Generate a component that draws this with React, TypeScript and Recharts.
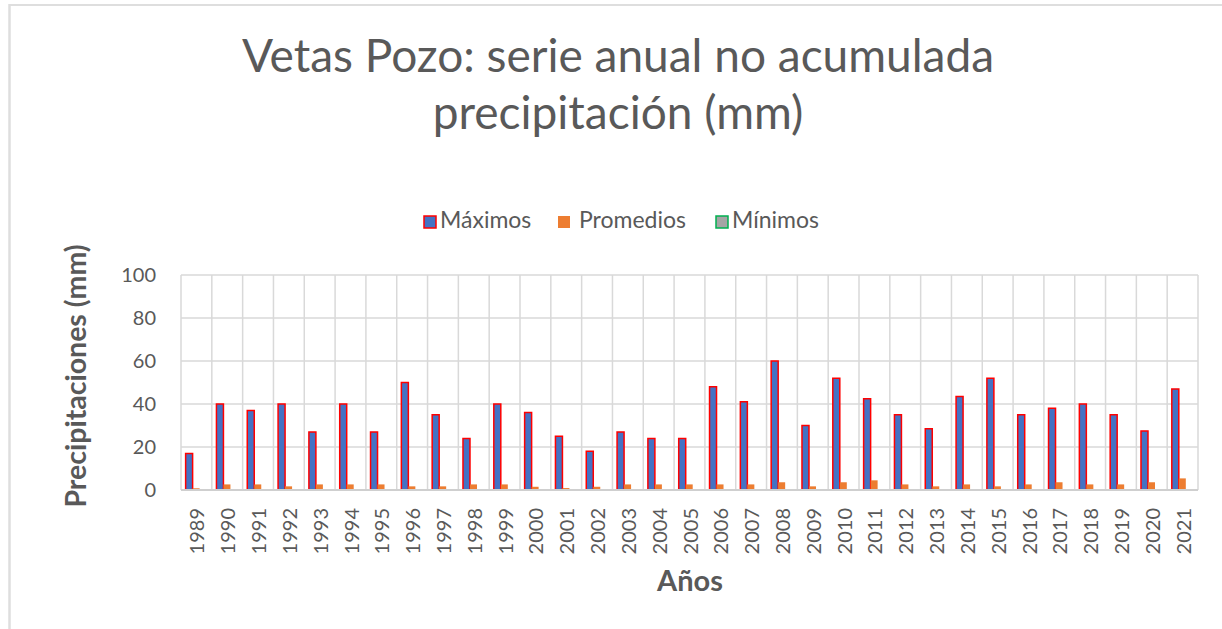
import React from 'react';
import { BarChart, Bar, XAxis, YAxis, CartesianGrid } from 'recharts';

const years = [
  '1989', '1990', '1991', '1992', '1993', '1994', '1995', '1996', '1997', '1998', '1999',
  '2000', '2001', '2002', '2003', '2004', '2005', '2006', '2007', '2008', '2009', '2010',
  '2011', '2012', '2013', '2014', '2015', '2016', '2017', '2018', '2019', '2020', '2021',
];

const maximos = [
  17, 40, 37, 40, 27, 40, 27, 50, 35, 24, 40,
  36, 25, 18, 27, 24, 24, 48, 41, 60, 30, 52,
  42.5, 35, 28.5, 43.5, 52, 35, 38, 40, 35, 27.5, 47,
];

const promedios = [
  0.8, 2.6, 2.6, 1.7, 2.6, 2.6, 2.6, 1.7, 1.7, 2.6, 2.6,
  1.5, 0.9, 1.5, 2.6, 2.6, 2.6, 2.6, 2.6, 3.6, 1.7, 3.6,
  4.5, 2.6, 1.7, 2.6, 1.7, 2.6, 3.6, 2.6, 2.6, 3.6, 5.4,
];

const minimos = [
  0, 0, 0, 0, 0, 0, 0, 0, 0, 0, 0,
  0, 0, 0, 0, 0, 0, 0, 0, 0, 0, 0,
  0, 0, 0, 0, 0, 0, 0, 0, 0, 0, 0,
];

const yTicks = [0, 20, 40, 60, 80, 100];

const titleLines = ['Vetas Pozo: serie anual no acumulada', 'precipitación (mm)'];
const yAxisTitle = 'Precipitaciones (mm)';
const xAxisTitle = 'Años';

const seriesNames = ['Máximos', 'Promedios', 'Mínimos'];
const seriesFill = ['#4472C4', '#ED7D31', '#A5A5A5'];
const seriesStroke = ['#FF0000', 'none', '#00B050'];

const data = years.map((y, i) => ({
  year: y,
  max: maximos[i],
  prom: promedios[i],
  min: minimos[i],
}));

const FONT = 'Lato, "Open Sans", sans-serif';
const TEXT = '#595959';
const GRID = '#d9d9d9';

const XTick = (props: any) => {
  const { x, y, payload } = props;
  const yy = y + 18;
  return (
    <text
      x={x}
      y={yy}
      transform={`rotate(-90 ${x} ${yy})`}
      textAnchor="end"
      dominantBaseline="central"
      fill={TEXT}
      fontSize={20}
      fontFamily={FONT}
    >
      {payload.value}
    </text>
  );
};

const legendX = [423, 557, 715];

export default function App() {
  return (
    <div style={{ position: 'absolute', left: 0, top: 0, width: 1222, height: 629, background: '#fff', overflow: 'hidden' }}>
      <BarChart
        width={1222}
        height={629}
        data={data}
        margin={{ top: 275, right: 24, bottom: 69, left: 121 }}
        barCategoryGap="15%"
        barGap={0}
      >
        <CartesianGrid
          stroke={GRID}
          strokeWidth={1.5}
          verticalCoordinatesGenerator={({ offset }: any) =>
            years.map((_, i) => offset.left + (i * offset.width) / years.length).concat([offset.left + offset.width])
          }
        />
        <XAxis
          dataKey="year"
          interval={0}
          height={70}
          tickLine={false}
          tickSize={0}
          tickMargin={0}
          axisLine={{ stroke: '#cfcfcf', strokeWidth: 2 }}
          tick={<XTick />}
        />
        <YAxis
          domain={[0, 100]}
          ticks={yTicks}
          width={60}
          axisLine={false}
          tickLine={false}
          tickSize={0}
          tickMargin={25}
          tick={{ fill: TEXT, fontSize: 20, fontFamily: FONT }}
        />
        <Bar dataKey="max" name={seriesNames[0]} fill={seriesFill[0]} stroke={seriesStroke[0]} strokeWidth={1.5} isAnimationActive={false} />
        <Bar dataKey="prom" name={seriesNames[1]} fill={seriesFill[1]} isAnimationActive={false} />
        <Bar dataKey="min" name={seriesNames[2]} fill={seriesFill[2]} stroke={seriesStroke[2]} strokeWidth={1.5} isAnimationActive={false} />
      </BarChart>
      <svg width={1222} height={629} style={{ position: 'absolute', left: 0, top: 0, pointerEvents: 'none' }}>
        <line x1={9} y1={5} x2={1222} y2={5} stroke="#dedede" strokeWidth={2} />
        <line x1={9.5} y1={4} x2={9.5} y2={629} stroke="#dedede" strokeWidth={2.5} />
        <text x={618} y={72} textAnchor="middle" fill={TEXT} fontSize={46} fontFamily={FONT}>{titleLines[0]}</text>
        <text x={618} y={129} textAnchor="middle" fill={TEXT} fontSize={46} fontFamily={FONT}>{titleLines[1]}</text>
        {seriesNames.map((n, i) => (
          <g key={n}>
            <rect
              x={legendX[i] + 1}
              y={216}
              width={12}
              height={12}
              fill={seriesFill[i]}
              stroke={seriesStroke[i] === 'none' ? undefined : seriesStroke[i]}
              strokeWidth={1.5}
            />
            <text x={legendX[i] + (i === 1 ? 22 : 17)} y={228} fill={TEXT} fontSize={23} fontFamily={FONT}>{n}</text>
          </g>
        ))}
        <text
          x={75}
          y={376}
          transform="rotate(-90 75 376)"
          textAnchor="middle"
          dominantBaseline="central"
          fill={TEXT}
          fontSize={28.5}
          fontWeight="bold"
          fontFamily={FONT}
        >
          {yAxisTitle}
        </text>
        <text x={690} y={591} textAnchor="middle" fill={TEXT} fontSize={29} fontWeight="bold" fontFamily={FONT}>{xAxisTitle}</text>
      </svg>
    </div>
  );
}
